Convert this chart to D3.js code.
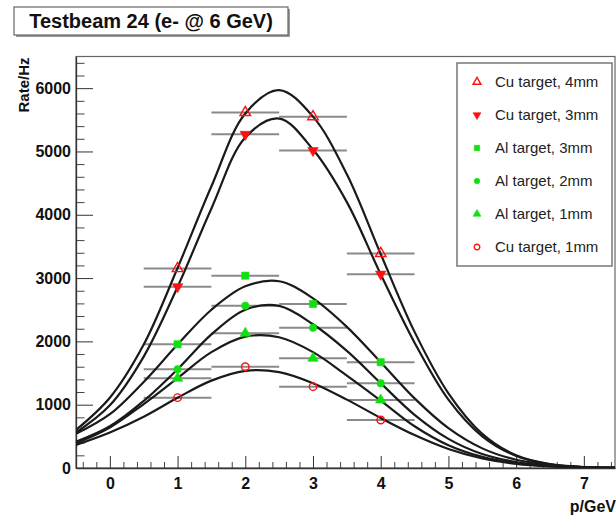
<!DOCTYPE html>
<html>
<head>
<meta charset="utf-8">
<script src="https://cdn.jsdelivr.net/npm/d3@7"></script>
<style>
  html, body { margin: 0; padding: 0; background: #fff; }
  svg { display: block; font-family: "Liberation Sans", Arial, Helvetica, sans-serif; }
</style>
</head>
<body>
<svg id="chart" width="616" height="515"></svg>
<script>
// ---------------- data ----------------
const chartTitle = "Testbeam 24 (e- @ 6 GeV)";
const xTitle = "p/GeV";
const yTitle = "Rate/Hz";

const seriesNames = ["Cu target, 4mm", "Cu target, 3mm", "Al target, 3mm", "Al target, 2mm", "Al target, 1mm", "Cu target, 1mm"];

// measured points (momentum bins, half-width error)
const pointX = [1, 2, 3, 4];
const xErr = 0.5;
const cu4mm = [3150, 5615, 5550, 3390];
const cu3mm = [2864, 5270, 5015, 3062];
const al3mm = [1954, 3038, 2591, 1671];
const al2mm = [1559, 2564, 2216, 1338];
const al1mm = [1417, 2128, 1733, 1074];
const cu1mm = [1111, 1600, 1284, 758];

// fitted curves, every 0.5 GeV
const fitX = [-0.5, 0, 0.5, 1, 1.5, 2, 2.5, 3, 3.5, 4, 4.5, 5, 5.5, 6, 6.5, 7, 7.5];
const fitCu4mm = [600, 1110, 1950, 3160, 4450, 5600, 5970, 5550, 4640, 3380, 2150, 1180, 540, 200, 60, 15, 3];
const fitCu3mm = [560, 990, 1760, 2860, 4100, 5220, 5520, 5030, 4200, 3060, 1980, 1080, 500, 190, 58, 14, 3];
const fitAl3mm = [540, 850, 1360, 1950, 2500, 2870, 2950, 2680, 2230, 1670, 1100, 630, 310, 130, 50, 15, 4];
const fitAl2mm = [415, 660, 1060, 1560, 2110, 2500, 2560, 2270, 1850, 1340, 840, 460, 220, 95, 36, 12, 3];
const fitAl1mm = [390, 640, 1010, 1420, 1830, 2075, 2065, 1830, 1460, 1065, 660, 360, 175, 75, 28, 9, 2];
const fitCu1mm = [363, 560, 810, 1110, 1380, 1535, 1515, 1340, 1080, 790, 520, 300, 150, 65, 25, 8, 2];

const xMajorTicks = [0, 1, 2, 3, 4, 5, 6, 7];
const yMajorTicks = [0, 1000, 2000, 3000, 4000, 5000, 6000];

// ---------------- styles ----------------
const RED = "#ff1010", GREEN = "#10e010";
const styles = [
  {shape: "triUp",   fill: "none", stroke: RED},
  {shape: "triDown", fill: RED,    stroke: RED},
  {shape: "square",  fill: GREEN,  stroke: GREEN},
  {shape: "circle",  fill: GREEN,  stroke: GREEN},
  {shape: "triUp",   fill: GREEN,  stroke: GREEN},
  {shape: "circle",  fill: "none", stroke: RED}
];
const pointSets = [cu4mm, cu3mm, al3mm, al2mm, al1mm, cu1mm];
const fitSets = [fitCu4mm, fitCu3mm, fitAl3mm, fitAl2mm, fitAl1mm, fitCu1mm];

const series = seriesNames.map((name, i) => ({
  name, style: styles[i],
  points: pointX.map((x, j) => ({x, y: pointSets[i][j]})),
  fit: fitX.map((x, j) => ({x, y: fitSets[i][j]}))
}));

// ---------------- layout ----------------
const svg = d3.select("#chart");
const plot = {left: 76, right: 615, top: 56.5, bottom: 468};
const x = d3.scaleLinear().domain([-0.5, 7.46]).range([plot.left, plot.right]);
const y = d3.scaleLinear().domain([0, 6500]).range([plot.bottom, plot.top]);

svg.append("defs").append("clipPath").attr("id", "clip")
  .append("rect").attr("x", plot.left).attr("y", plot.top)
  .attr("width", plot.right - plot.left).attr("height", plot.bottom - plot.top);

// frame
svg.append("rect")
  .attr("x", plot.left).attr("y", plot.top)
  .attr("width", plot.right - plot.left).attr("height", plot.bottom - plot.top)
  .attr("fill", "none").attr("stroke", "#666").attr("stroke-width", 1.2);

// minor ticks
const xMinor = d3.range(-4, 75, 2).map(v => v / 10).filter(v => !xMajorTicks.includes(v));
const yMinor = d3.range(0, 6500, 200).filter(v => !yMajorTicks.includes(v));

svg.append("g").attr("transform", `translate(0,${plot.bottom})`)
  .call(d3.axisBottom(x).tickValues(xMinor).tickSizeInner(-6).tickSizeOuter(0).tickFormat(""))
  .call(g => g.select(".domain").remove())
  .call(g => g.selectAll("line").attr("stroke", "#444"));
svg.append("g").attr("transform", `translate(${plot.left},0)`)
  .call(d3.axisLeft(y).tickValues(yMinor).tickSizeInner(-8.5).tickSizeOuter(0).tickFormat(""))
  .call(g => g.select(".domain").remove())
  .call(g => g.selectAll("line").attr("stroke", "#444"));

// major axes
const xAxis = svg.append("g").attr("transform", `translate(0,${plot.bottom})`)
  .call(d3.axisBottom(x).tickValues(xMajorTicks).tickSizeInner(-12).tickSizeOuter(0).tickPadding(10).tickFormat(d3.format("d")));
const yAxis = svg.append("g").attr("transform", `translate(${plot.left},0)`)
  .call(d3.axisLeft(y).tickValues(yMajorTicks).tickSizeInner(-17).tickSizeOuter(0).tickPadding(5).tickFormat(d3.format("d")));
[xAxis, yAxis].forEach(g => {
  g.select(".domain").attr("stroke", "#333").attr("stroke-width", 1.3);
  g.selectAll(".tick line").attr("stroke", "#333");
  g.selectAll(".tick text").attr("fill", "#111").style("font-size", "16px").style("font-weight", "bold")
    .style("font-family", "'Liberation Sans', Arial, sans-serif");
});

// axis titles
svg.append("text").attr("x", 616).attr("y", 512).attr("text-anchor", "end")
  .style("font-size", "16px").style("font-weight", "bold").attr("fill", "#111").text(xTitle);
svg.append("text").attr("transform", `translate(29,${plot.top + 1}) rotate(-90)`)
  .attr("text-anchor", "end")
  .style("font-size", "15px").style("font-weight", "bold").attr("fill", "#111").text(yTitle);

// ---------------- marks ----------------
const gData = svg.append("g").attr("clip-path", "url(#clip)");

// error bars
series.forEach(s => {
  gData.append("g").selectAll("line").data(s.points).join("line")
    .attr("x1", d => x(d.x - xErr)).attr("x2", d => x(d.x + xErr))
    .attr("y1", d => y(d.y)).attr("y2", d => y(d.y))
    .attr("stroke", "#8a8a8a").attr("stroke-width", 2);
});

// fit curves
const line = d3.line().x(d => x(d.x)).y(d => y(d.y)).curve(d3.curveCatmullRom.alpha(0.5));
series.forEach(s => {
  gData.append("path").datum(s.fit).attr("d", line)
    .attr("fill", "none").attr("stroke", "#1a1a1a").attr("stroke-width", 2.2);
});

function symbolPath(shape, scale) {
  const k = scale || 1;
  if (shape === "square") return d3.symbol(d3.symbolSquare, 52 * k * k)();
  if (shape === "circle") return d3.symbol(d3.symbolCircle, 44 * k * k)();
  return d3.symbol(d3.symbolTriangle, 48 * k * k)();
}
function drawMarker(g, st, cx, cy, scale) {
  g.append("path")
    .attr("d", symbolPath(st.shape, scale))
    .attr("transform", `translate(${cx},${cy})` + (st.shape === "triDown" ? " rotate(180)" : ""))
    .attr("fill", st.fill).attr("stroke", st.stroke).attr("stroke-width", st.fill === "none" ? 1.4 : 0.6);
}

// markers
series.forEach(s => {
  const g = gData.append("g");
  s.points.forEach(p => drawMarker(g, s.style, x(p.x), y(p.y), 1));
});

// ---------------- legend ----------------
const leg = {x: 457, y: 63, w: 155, h: 203};
svg.append("rect").attr("x", leg.x).attr("y", leg.y).attr("width", leg.w).attr("height", leg.h)
  .attr("fill", "#fff").attr("stroke", "#777").attr("stroke-width", 1.5);
const legRow = d3.scalePoint().domain(seriesNames).range([82, 247]);
series.forEach(s => {
  const cy = legRow(s.name);
  drawMarker(svg, s.style, 477, cy, 0.75);
  svg.append("text").attr("x", 495).attr("y", cy).attr("dy", "0.35em")
    .style("font-size", "15px").attr("fill", "#222").text(s.name);
});

// ---------------- title box ----------------
svg.append("rect").attr("x", 16).attr("y", 9).attr("width", 274).attr("height", 28).attr("fill", "#999");
svg.append("rect").attr("x", 14).attr("y", 7).attr("width", 274).attr("height", 28)
  .attr("fill", "#fff").attr("stroke", "#666").attr("stroke-width", 1.2);
svg.append("text").attr("x", 151).attr("y", 21).attr("dy", "0.35em").attr("text-anchor", "middle")
  .style("font-size", "20px").style("font-weight", "bold").attr("fill", "#111").text(chartTitle);
</script>
</body>
</html>
